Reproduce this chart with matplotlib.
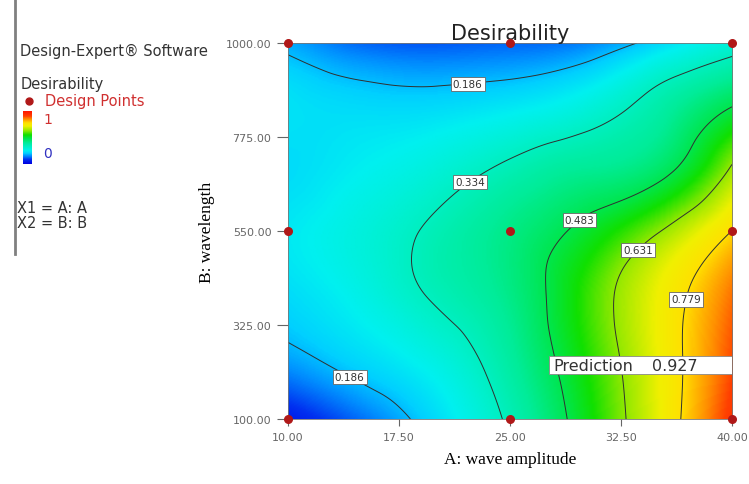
import numpy as np
import matplotlib.pyplot as plt
import matplotlib.tri as mtri
from matplotlib.colors import LinearSegmentedColormap
from matplotlib.lines import Line2D
from matplotlib.patches import Rectangle

# factor levels (grid)
a_levels = [10, 15, 20, 25, 30, 35, 40]
b_levels = [100, 250, 400, 550, 700, 850, 1000]

# desirability, one row per B level (bottom -> top)
d_b100 = [0.05, 0.13, 0.22, 0.35, 0.525, 0.715, 0.93]
d_b250 = [0.17, 0.22, 0.28, 0.39, 0.55, 0.72, 0.90]
d_b400 = [0.22, 0.27, 0.345, 0.42, 0.565, 0.72, 0.87]
d_b550 = [0.24, 0.285, 0.35, 0.42, 0.505, 0.625, 0.78]
d_b700 = [0.22, 0.25, 0.29, 0.35, 0.40, 0.45, 0.64]
d_b850 = [0.23, 0.215, 0.215, 0.235, 0.28, 0.37, 0.48]
d_b1000 = [0.17, 0.12, 0.11, 0.12, 0.14, 0.21, 0.29]

contour_levels = [0.186, 0.334, 0.483, 0.631, 0.779]

design_a = [10, 25, 40, 10, 25, 40, 10, 25, 40]
design_b = [100, 100, 100, 550, 550, 550, 1000, 1000, 1000]

x_ticks = [10.0, 17.5, 25.0, 32.5, 40.0]
y_ticks = [100.0, 325.0, 550.0, 775.0, 1000.0]

prediction = 0.927

# Design-Expert style colour ramp
de_cmap = LinearSegmentedColormap.from_list("de", [
    (0.00, "#0000e0"), (0.08, "#0030f0"), (0.15, "#0090ff"),
    (0.20, "#00d0ff"), (0.25, "#00f0f0"), (0.32, "#00f0c8"),
    (0.40, "#00ec98"), (0.48, "#00e650"), (0.55, "#10e000"),
    (0.63, "#90e800"), (0.72, "#f0f000"), (0.78, "#ffe000"),
    (0.85, "#ff9000"), (0.91, "#ff4000"), (1.00, "#ff1800")])

D = np.array([d_b100, d_b250, d_b400, d_b550, d_b700, d_b850, d_b1000])
AA, BB = np.meshgrid(a_levels, b_levels)
tri = mtri.Triangulation(AA.ravel(), BB.ravel())
interp = mtri.CubicTriInterpolator(tri, D.ravel(), kind="min_E")
fa, fb = np.meshgrid(np.linspace(10, 40, 300), np.linspace(100, 1000, 300))
fz = np.clip(np.ma.filled(interp(fa, fb), np.nan), 0, 1)

fig = plt.figure(figsize=(7.49, 4.85), dpi=100)
ax = fig.add_axes([0.3845, 0.134, 0.5928, 0.7753])

ax.imshow(fz, origin="lower", extent=[10, 40, 100, 1000], aspect="auto",
          cmap=de_cmap, vmin=0, vmax=1, interpolation="bilinear")
cs = ax.contour(fa, fb, fz, levels=contour_levels, colors="#303030", linewidths=0.7)
lbl_pos = [(22.1, 919), (21.8, 694), (29.2, 600), (33.6, 507), (36.8, 387), (14.5, 224)]
labels = ax.clabel(cs, fmt="%.3f", fontsize=7.5, manual=lbl_pos, inline=False)
for t in labels:
    t.set_rotation(0)
    t.set_color("#333333")
    t.set_zorder(4)
    t.set_bbox(dict(boxstyle="square,pad=0.2", fc="white", ec="#666666", lw=0.6))

ax.scatter(design_a, design_b, s=30, color="#b01818", zorder=5, clip_on=False)

# prediction flag
ax.add_patch(Rectangle((27.65, 208), 12.35, 43, fc="white", ec="#888888", lw=0.6, zorder=6))
ax.text(27.9, 229, "Prediction", fontsize=11.5, color="#333333", va="center", zorder=7)
ax.text(34.6, 229, f"{prediction:.3f}", fontsize=11.5, color="#333333", va="center", zorder=7)

ax.set_xlim(10, 40)
ax.set_ylim(100, 1000)
ax.set_xticks(x_ticks)
ax.set_yticks(y_ticks)
ax.set_xticklabels([f"{v:.2f}" for v in x_ticks])
ax.set_yticklabels([f"{v:.2f}" for v in y_ticks])
ax.tick_params(labelsize=8, colors="#666666", width=0.8)
ax.tick_params(axis="y", length=8, pad=4)
ax.tick_params(axis="x", length=5, pad=4)
for s in ax.spines.values():
    s.set_color("#777777")
    s.set_linewidth(0.6)

ax.set_title("Desirability", fontsize=15, color="#222222", pad=2)
ax.set_xlabel("A: wave amplitude", family="Liberation Serif", fontsize=12.5, labelpad=7)
ax.set_ylabel("B: wavelength", family="Liberation Serif", fontsize=12.5, labelpad=8)

# left info panel
fig.add_artist(Line2D([0.02, 0.02], [1.0, 0.474], color="#808080", lw=2))
fig.text(0.027, 0.893, "Design-Expert\u00ae Software", fontsize=10.5, color="#333333", va="center")
fig.text(0.027, 0.825, "Desirability", fontsize=10.5, color="#333333", va="center")
fig.text(0.06, 0.79, "Design Points", fontsize=10.5, color="#d03030", va="center")
fig.add_artist(Line2D([0.039], [0.79], marker="o", ms=5, color="#b01818", lw=0))
cax = fig.add_axes([0.031, 0.66, 0.012, 0.109])
cax.imshow(np.linspace(0, 1, 100)[:, None], origin="lower", aspect="auto", cmap=de_cmap)
cax.set_axis_off()
fig.text(0.058, 0.753, "1", fontsize=10, color="#d03030", va="center")
fig.text(0.058, 0.683, "0", fontsize=10, color="#3030c0", va="center")
fig.text(0.023, 0.571, "X1 = A: A", fontsize=10.5, color="#333333", va="center")
fig.text(0.023, 0.54, "X2 = B: B", fontsize=10.5, color="#333333", va="center")

fig.savefig("out.png", dpi=100)
